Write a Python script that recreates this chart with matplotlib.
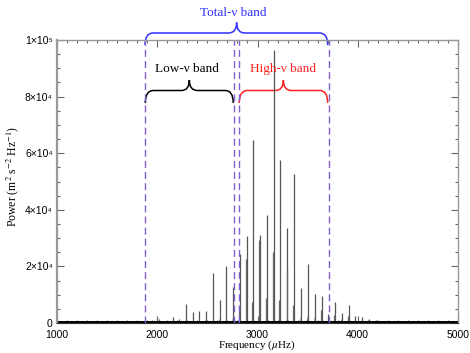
import numpy as np
import matplotlib
matplotlib.use("Agg")
import matplotlib.pyplot as plt
from matplotlib.path import Path
from matplotlib.patches import PathPatch
from matplotlib.ticker import MultipleLocator, FixedLocator, FixedFormatter
from matplotlib.transforms import blended_transform_factory

plt.rcParams['mathtext.fontset'] = 'stix'

# comb of mode frequencies (uHz) and peak power (m^2 s^-2 Hz^-1)
mode_freq = [1020, 1085, 1150, 1220, 1285, 1350, 1420, 1485, 1550, 1620,
             1685, 1750, 1820, 1885, 1950, 2017, 2087, 2154, 2217, 2287,
             2360, 2419, 2483, 2559, 2623, 2689, 2756, 2825, 2898, 2958,
             3025, 3098, 3168, 3227, 3297, 3367, 3434, 3501, 3573, 3640,
             3707, 3773, 3840, 3913, 3973, 4046, 4115, 4182, 4249, 4322,
             4388, 4450, 4520, 4590, 4660, 4720, 4790, 4860, 4930]
mode_power = [300, 350, 300, 400, 350, 450, 400, 500, 450, 600,
              550, 700, 650, 800, 900, 1300, 800, 2000, 1300, 6700,
              3900, 4100, 4200, 17500, 8100, 20100, 12600, 24400, 30700, 64700,
              31100, 38200, 96500, 57600, 33500, 52700, 12200, 20800, 10100, 9600,
              3200, 7400, 3400, 6500, 2500, 2000, 1300, 1000, 800, 700,
              600, 500, 450, 400, 400, 350, 350, 300, 300]
# black wedge at the foot of each mode
mode_base = [150, 150, 150, 200, 150, 200, 200, 250, 200, 250,
             250, 300, 300, 350, 400, 500, 400, 600, 500, 1000,
             900, 1000, 1100, 1600, 1500, 1900, 2000, 2400, 2600, 3000,
             2900, 3000, 3100, 3000, 2900, 2800, 2600, 2500, 2200, 2100,
             1800, 1700, 1500, 1300, 1100, 1000, 900, 800, 700, 600,
             500, 450, 400, 350, 300, 250, 250, 200, 200]

# secondary spikes next to the main modes
side_freq = [2000, 2812, 2885, 2945, 3018, 3082, 3158, 3214, 3291, 3357,
             3630, 3765, 3905]
side_power = [1600, 6000, 22700, 7500, 29300, 8700, 25200, 8100, 19000, 6400,
              4500, 3000, 2500]

# band edges (uHz)
band_edges = [1878, 2766, 2818, 3710]

fig = plt.figure(figsize=(4.70, 3.53), dpi=100)
ax = fig.add_axes([57 / 470, 30 / 353, 401 / 470, 283 / 353])

ax.vlines(mode_freq, 0, mode_power, color='#555555', lw=0.9)
ax.vlines(side_freq, 0, side_power, color='#666666', lw=0.9)
for f, b in zip(mode_freq, mode_base):
    ax.fill([f - 12, f - 3, f, f + 3, f + 12], [0, b * 0.4, b, b * 0.4, 0],
            color='black', lw=0)
ax.axhline(300, color='black', lw=1.4)

for f in band_edges:
    ax.axvline(f, color='#8060d0', lw=1.0, ls=(0, (5, 3)))

ax.set_xlim(1000, 5000)
ax.set_ylim(0, 1e5)
ax.xaxis.set_major_locator(MultipleLocator(1000))
ax.xaxis.set_minor_locator(MultipleLocator(100))
ax.yaxis.set_major_locator(FixedLocator([0, 2e4, 4e4, 6e4, 8e4, 1e5]))
ax.yaxis.set_major_formatter(FixedFormatter(['0', '2×10⁴', '4×10⁴', '6×10⁴',
                                             '8×10⁴', '1×10⁵']))
ax.yaxis.set_minor_locator(MultipleLocator(5000))
ax.tick_params(which='both', direction='in', top=True, right=True,
               color='#666666', labelsize=7.5)
ax.tick_params(axis='x', pad=5)
ax.tick_params(axis='y', pad=3)
ax.tick_params(which='major', length=5, width=0.8)
ax.tick_params(which='minor', length=2.5, width=0.8)
for lab in ax.get_xticklabels() + ax.get_yticklabels():
    lab.set_family(['Liberation Sans', 'DejaVu Sans'])
for side in ['top', 'right', 'left']:
    ax.spines[side].set_color('#999999')
    ax.spines[side].set_linewidth(1.0)
ax.spines['left'].set_linewidth(1.6)
ax.spines['bottom'].set_color('#333333')

fig.text(257 / 470, 1 - 345.5 / 353, 'Frequency ($\\mu$Hz)', ha='center',
         va='center', family='Liberation Serif', fontsize=8)
fig.text(13 / 470, 1 - 176 / 353, 'Power (m$^{2}$ s$^{-2}$ Hz$^{-1}$)',
         ha='center', va='center', rotation=90, family='Liberation Serif',
         fontsize=8.5)

# curly braces: x in data, y in pixels from the top of the figure
trans = blended_transform_factory(ax.transData, fig.dpi_scale_trans)


def py(y):
    return (353 - y) / 100


def brace(x0, x1, xm, y_tip, y_flat, y_end, color, r=80):
    verts = [(x0, py(y_end)), (x0, py(y_flat)), (x0 + r, py(y_flat)),
             (xm - r, py(y_flat)), (xm, py(y_flat)), (xm, py(y_tip)),
             (xm, py(y_flat)), (xm + r, py(y_flat)),
             (x1 - r, py(y_flat)), (x1, py(y_flat)), (x1, py(y_end))]
    codes = [Path.MOVETO, Path.CURVE3, Path.CURVE3,
             Path.LINETO, Path.CURVE3, Path.CURVE3,
             Path.CURVE3, Path.CURVE3,
             Path.LINETO, Path.CURVE3, Path.CURVE3]
    ax.add_patch(PathPatch(Path(verts, codes), transform=trans, fill=False,
                           edgecolor=color, lw=1.1, clip_on=False))


brace(1878, 3700, 2792, 22.5, 33, 45, '#3030ff')
brace(1881, 2758, 2320, 80, 90.5, 103, 'black')
brace(2818, 3700, 3258, 80, 90.5, 103, '#ff2020')

ax.text(2762, py(13), 'Total-ν band', transform=trans, ha='center',
        va='center', color='#3030ff', family='Liberation Serif', fontsize=9.5)
ax.text(2300, py(69), 'Low-ν band', transform=trans, ha='center',
        va='center', color='black', family='Liberation Serif', fontsize=9.5)
ax.text(3256, py(69), 'High-ν band', transform=trans, ha='center',
        va='center', color='#ff2020', family='Liberation Serif', fontsize=9.5)

fig.savefig('out.png', dpi=100)
